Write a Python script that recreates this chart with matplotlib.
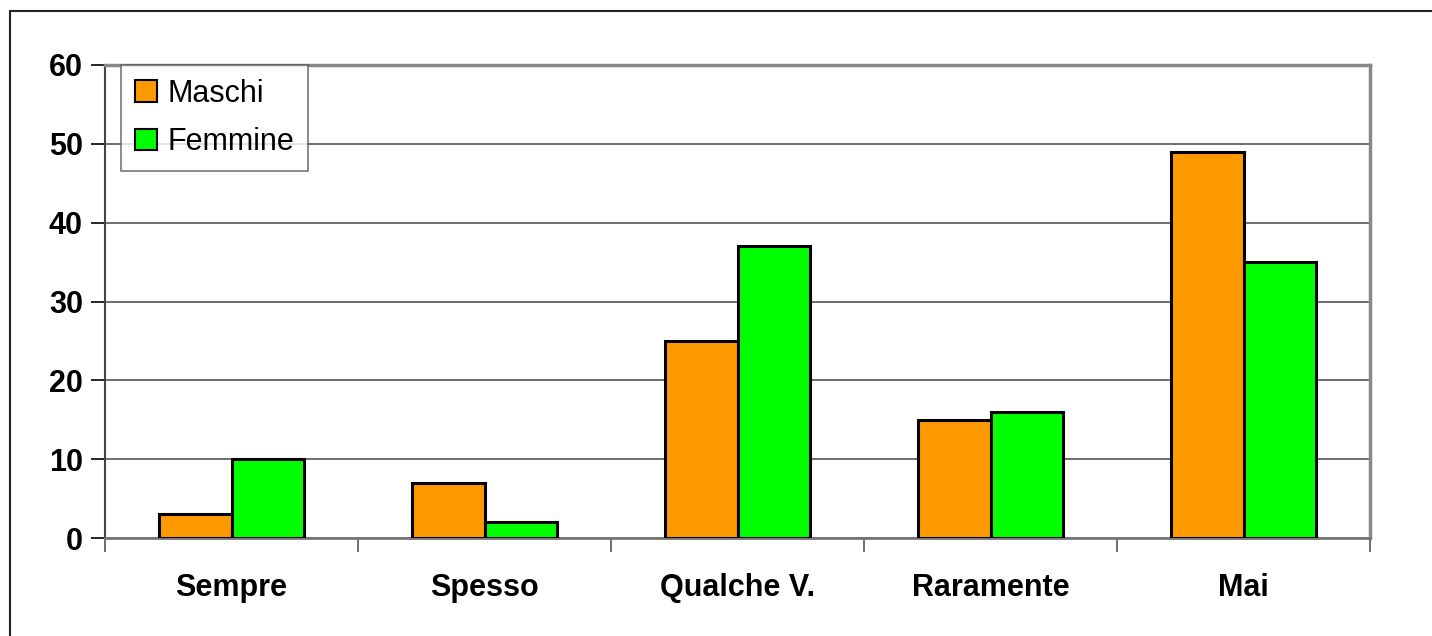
import matplotlib.pyplot as plt
import numpy as np
from matplotlib.patches import Rectangle

plt.rcParams['font.family'] = ['Liberation Sans', 'DejaVu Sans']

# data
categories = ['Sempre', 'Spesso', 'Qualche V.', 'Raramente', 'Mai']
maschi = [3, 7, 25, 15, 49]
femmine = [10, 2, 37, 16, 35]
series_names = ['Maschi', 'Femmine']
y_ticks = [0, 10, 20, 30, 40, 50, 60]

fig = plt.figure(figsize=(14.32, 6.36), dpi=100)
ax = fig.add_axes([105 / 1432, 98 / 636, 1265 / 1432, 473 / 636])

# outer frame of the figure (cut off at right and bottom)
fig.patches.append(Rectangle((10 / 1432, -0.1), 1.2, (636 - 11) / 636 + 0.1,
                             transform=fig.transFigure, fill=False,
                             edgecolor='#222222', linewidth=1.5))

x = np.arange(len(categories))
w = 0.287
ax.bar(x - w / 2, maschi, w, color='#FF9900', edgecolor='black', linewidth=2.2,
       label=series_names[0], zorder=3)
ax.bar(x + w / 2, femmine, w, color='#00FF00', edgecolor='black', linewidth=2.2,
       label=series_names[1], zorder=3)

ax.set_xlim(-0.5, len(categories) - 0.5)
ax.set_ylim(0, 60)
ax.set_yticks(y_ticks)
ax.set_yticklabels([str(t) for t in y_ticks], fontsize=22, fontweight='bold')
ax.yaxis.grid(True, color='#555555', linewidth=1.2, zorder=0)

# category labels centred, ticks on the boundaries
ax.set_xticks(np.arange(-0.5, len(categories)), minor=False)
ax.set_xticklabels([])
ax.set_xticks(x, minor=True)
ax.set_xticklabels(categories, minor=True, fontsize=22, fontweight='bold')
ax.tick_params(axis='x', which='minor', length=0, pad=25)
ax.tick_params(axis='x', which='major', length=10, width=1.2, color='#555555')
ax.tick_params(axis='y', length=10, width=1.2, pad=6)

for side in ['top', 'right']:
    ax.spines[side].set_color('#888888')
    ax.spines[side].set_linewidth(2.5)
ax.spines['left'].set_color('#444444')
ax.spines['left'].set_linewidth(1.5)
ax.spines['bottom'].set_color('#777777')
ax.spines['bottom'].set_linewidth(2)

leg = ax.legend(loc='upper left', bbox_to_anchor=(0.013, 1.0), fontsize=22,
                frameon=True, fancybox=False, edgecolor='#555555',
                handlelength=0.7, handleheight=0.7, handletextpad=0.35,
                borderpad=0.45, labelspacing=0.6, borderaxespad=0)
leg.get_frame().set_linewidth(1.2)
for h in leg.legend_handles:
    h.set_linewidth(1.5)
leg.set_zorder(5)

fig.savefig('out.png', dpi=100)
